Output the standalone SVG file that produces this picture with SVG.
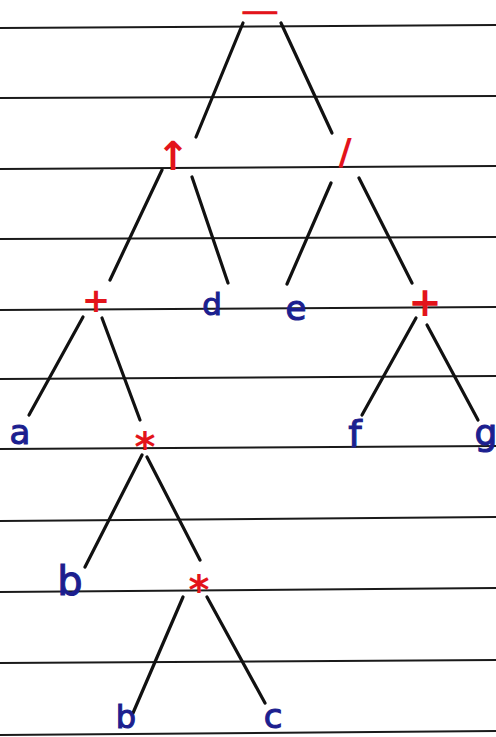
<svg xmlns="http://www.w3.org/2000/svg" width="496" height="737" viewBox="0 0 496 737">
<style>
.rule{stroke:#1a1a1a;stroke-width:2;fill:none}
.edge{stroke:#111;stroke-width:3.2;stroke-linecap:round;fill:none}
.op{fill:#e3141b;font-family:"DejaVu Sans",sans-serif;text-anchor:middle;font-weight:bold}
.leaf{fill:#1c1f8f;font-family:"DejaVu Sans",sans-serif;text-anchor:middle;stroke:#1c1f8f;stroke-width:1.1}
</style>
<rect width="496" height="737" fill="#fff"/>
<g id="paper">
<line class="rule" x1="0" y1="28" x2="496" y2="25"/>
<line class="rule" x1="0" y1="98" x2="496" y2="96"/>
<line class="rule" x1="0" y1="169" x2="496" y2="166"/>
<line class="rule" x1="0" y1="239" x2="496" y2="237"/>
<line class="rule" x1="0" y1="310" x2="496" y2="307"/>
<line class="rule" x1="0" y1="379" x2="496" y2="376"/>
<line class="rule" x1="0" y1="449" x2="496" y2="446"/>
<line class="rule" x1="0" y1="521" x2="496" y2="517"/>
<line class="rule" x1="0" y1="592" x2="496" y2="588"/>
<line class="rule" x1="0" y1="663" x2="496" y2="660"/>
<line class="rule" x1="0" y1="735" x2="496" y2="731"/>
</g>
<g id="connectors">
<line class="edge" x1="243" y1="23" x2="196" y2="137"/>
<line class="edge" x1="281" y1="23" x2="332" y2="133"/>
<line class="edge" x1="162" y1="170" x2="110" y2="280"/>
<line class="edge" x1="192" y1="177" x2="228" y2="283"/>
<line class="edge" x1="331" y1="183" x2="287" y2="284"/>
<line class="edge" x1="359" y1="178" x2="412" y2="283"/>
<line class="edge" x1="83" y1="317" x2="29" y2="415"/>
<line class="edge" x1="102" y1="318" x2="140" y2="420"/>
<line class="edge" x1="416" y1="318" x2="362" y2="415"/>
<line class="edge" x1="427" y1="325" x2="478" y2="420"/>
<line class="edge" x1="142" y1="455" x2="85" y2="567"/>
<line class="edge" x1="147" y1="457" x2="200" y2="560"/>
<line class="edge" x1="183" y1="597" x2="133" y2="713"/>
<line class="edge" x1="207" y1="597" x2="265" y2="703"/>
</g>
<g id="n-minus"><text class="op" x="260" y="19" font-size="20" textLength="44" lengthAdjust="spacingAndGlyphs" stroke="#e3141b" stroke-width="0.8">−</text></g>
<g id="n-pow"><text class="op" x="173" y="170" font-size="40">↑</text></g>
<g id="n-div"><text class="op" x="345" y="164" font-size="36">/</text></g>
<g id="n-plus1"><text class="op" x="96" y="312" font-size="34">+</text></g>
<g id="n-d"><text class="leaf" x="212" y="315" font-size="31">d</text></g>
<g id="n-e"><text class="leaf" x="296" y="320" font-size="34">e</text></g>
<g id="n-plus2"><text class="op" x="425" y="316" font-size="40">+</text></g>
<g id="n-a"><text class="leaf" x="20" y="444" font-size="34">a</text></g>
<g id="n-mul1"><text class="op" x="145" y="461" font-size="40">*</text></g>
<g id="n-f"><text class="leaf" x="355" y="447" font-size="38">f</text></g>
<g id="n-g"><text class="leaf" x="486" y="445" font-size="36">g</text></g>
<g id="n-b1"><text class="leaf" x="70" y="595" font-size="40">b</text></g>
<g id="n-mul2"><text class="op" x="199" y="604" font-size="40">*</text></g>
<g id="n-b2"><text class="leaf" x="126" y="728" font-size="32">b</text></g>
<g id="n-c"><text class="leaf" x="273" y="728" font-size="34">c</text></g>
</svg>
